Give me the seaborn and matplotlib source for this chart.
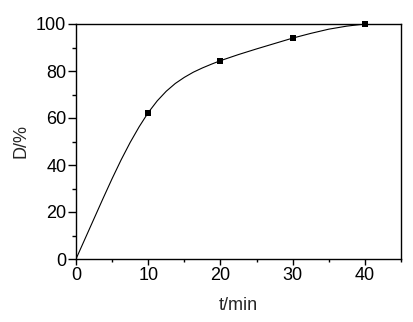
import matplotlib
matplotlib.use("Agg")
import matplotlib.pyplot as plt
import seaborn as sns
import pandas as pd
from matplotlib.ticker import MultipleLocator

sns.set_style("ticks")
plt.rcParams['font.family'] = ['Liberation Sans', 'DejaVu Sans']

# measured points (markers)
t_points = [10, 20, 30, 40]
d_points = [62.3, 84.4, 94.0, 100.0]

# smooth curve
t_curve = [0, 1.25, 2.5, 3.75, 5, 6.25, 7.5, 8.75, 10, 11.25, 12.5, 13.75, 15,
           16.25, 17.5, 18.75, 20, 22.5, 25, 27.5, 30, 32.5, 35, 37.5, 40]
d_curve = [0, 8.6, 17.2, 25.8, 34.2, 42.2, 49.6, 56.3, 62.3, 67.3, 71.4, 74.7, 77.3,
           79.5, 81.3, 82.9, 84.4, 87.0, 89.4, 91.7, 94.0, 96.0, 97.8, 99.1, 100.0]

x_ticks = [0, 10, 20, 30, 40]
y_ticks = [0, 20, 40, 60, 80, 100]

curve = pd.DataFrame({"t": t_curve, "D": d_curve})
pts = pd.DataFrame({"t": t_points, "D": d_points})

fig = plt.figure(figsize=(4.14, 3.22), dpi=100)
ax = fig.add_axes([76/414, 1-259/322, (401-76)/414, (259-24)/322])

sns.lineplot(data=curve, x="t", y="D", ax=ax, color="black", linewidth=0.8, sort=True)
sns.scatterplot(data=pts, x="t", y="D", ax=ax, marker="s", s=14, color="black",
                edgecolor="black", linewidth=0, zorder=5, clip_on=False)

ax.set_xlim(0, 45)
ax.set_ylim(0, 100)
ax.set_xticks(x_ticks)
ax.set_yticks(y_ticks)
ax.xaxis.set_minor_locator(MultipleLocator(5))
ax.yaxis.set_minor_locator(MultipleLocator(10))

for s in ax.spines.values():
    s.set_visible(True)
    s.set_color("black")
    s.set_linewidth(1.0)

ax.tick_params(axis="both", which="both", direction="out", top=False, right=False,
               colors="black", labelsize=13, width=1.0)
ax.tick_params(axis="y", which="major", length=5.5, pad=1.5)
ax.tick_params(axis="y", which="minor", length=3)
ax.tick_params(axis="x", which="major", length=4, pad=2)
ax.tick_params(axis="x", which="minor", length=2.5)

ax.set_xlabel("t/min", fontsize=13, labelpad=9)
ax.set_ylabel("D/%", fontsize=13, labelpad=5)

fig.savefig("out.png", dpi=100)
